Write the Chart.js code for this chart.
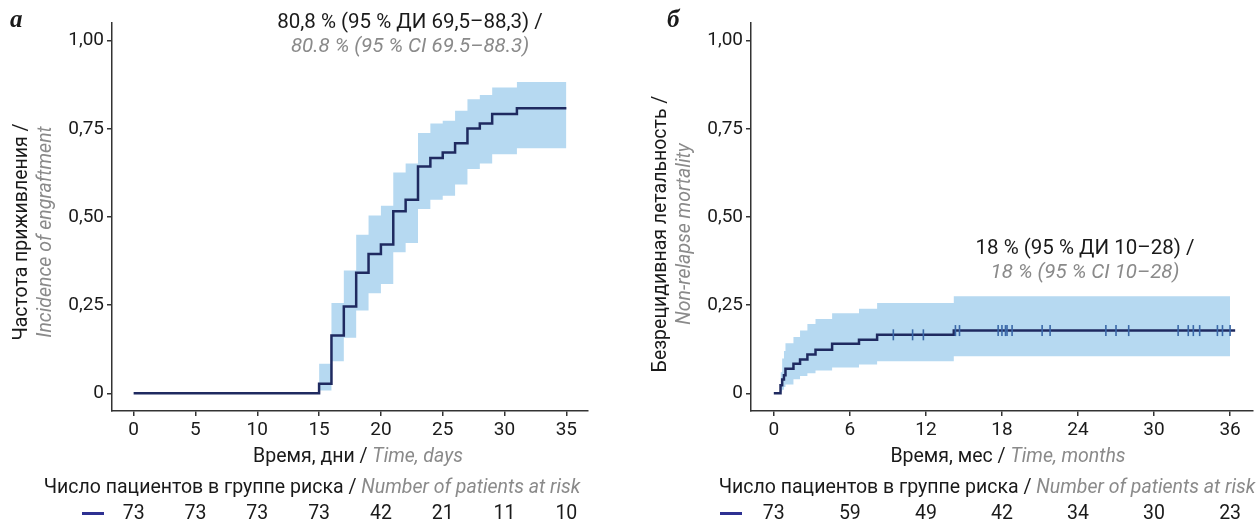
<!DOCTYPE html>
<html>
<head>
<meta charset="utf-8">
<script src="https://cdn.jsdelivr.net/npm/chart.js@4/dist/chart.umd.min.js"></script>
<style>
    body { margin: 0; background: #fff; }
    .panel { position: absolute; top: 0; width: 630px; height: 526px; }
</style>
</head>
<body>
<div class="panel" style="left:0"><canvas id="chartA" width="630" height="526"></canvas></div>
<div class="panel" style="left:630px"><canvas id="chartB" width="630" height="526"></canvas></div>
<script>
// Panel A: incidence of engraftment (days)
const engraftTimes = [0, 15, 16, 17, 18, 19, 20, 21, 22, 23, 24, 25, 26, 27, 28, 29, 31, 35];
const engraftValues = [0, 0.027, 0.164, 0.246, 0.342, 0.395, 0.422, 0.516, 0.549, 0.643, 0.667, 0.683, 0.709, 0.751, 0.765, 0.792, 0.808, 0.808];
const engraftBandTimes = [15, 16, 17, 18, 19, 20, 21, 22, 23, 24, 25, 26, 27, 28, 29, 31, 35];
const engraftUpper = [0.084, 0.256, 0.348, 0.450, 0.504, 0.532, 0.626, 0.652, 0.738, 0.765, 0.773, 0.801, 0.834, 0.846, 0.867, 0.883, 0.883];
const engraftLower = [0.008, 0.091, 0.158, 0.235, 0.284, 0.310, 0.400, 0.426, 0.523, 0.549, 0.560, 0.592, 0.636, 0.652, 0.678, 0.695, 0.695];
const daysTicks = [0, 5, 10, 15, 20, 25, 30, 35];
const daysAtRisk = [73, 73, 73, 73, 42, 21, 11, 10];

// Panel B: non-relapse mortality (months)
const nrmTimes = [0, 0.53, 0.66, 0.8, 0.92, 1.55, 2.07, 2.65, 3.29, 4.6, 6.72, 8.15, 14.2, 36.4];
const nrmValues = [0, 0.023, 0.039, 0.051, 0.070, 0.084, 0.096, 0.110, 0.124, 0.141, 0.152, 0.166, 0.178, 0.178];
const nrmBandTimes = [0.53, 0.66, 0.8, 0.92, 1.55, 2.07, 2.65, 3.29, 4.6, 6.72, 8.15, 14.2, 36];
const nrmUpper = [0.06, 0.099, 0.12, 0.142, 0.16, 0.178, 0.197, 0.211, 0.227, 0.240, 0.256, 0.275, 0.275];
const nrmLower = [0.005, 0.01, 0.018, 0.025, 0.040, 0.049, 0.057, 0.065, 0.073, 0.082, 0.091, 0.105, 0.105];
const nrmCensored = [9.43, 10.95, 11.8, 14.33, 14.65, 17.7, 18.0, 18.28, 18.4, 18.8, 21.17, 21.8, 26.2, 27.0, 28.0, 31.9, 32.7, 33.1, 33.6, 35.0, 35.4, 36.0];
const monthTicks = [0, 6, 12, 18, 24, 30, 36];
const monthsAtRisk = [73, 59, 49, 42, 34, 30, 23];

const yTicks = [0, 0.25, 0.5, 0.75, 1];
const yTickLabels = ['0', '0,25', '0,50', '0,75', '1,00'];

const FONT = 'Roboto, "Open Sans", sans-serif';
const BLACK = '#1a1a1a';
const GREY = '#8a8a8a';
const LINE = '#1f2a60';
const BAND = '#b6d9f1';
const TEXT_SIZE = 19.5;

function toPoints(xs, ys) {
    return xs.map((x, i) => ({ x: x, y: ys[i] }));
}

function stepValue(times, values, t) {
    let v = values[0];
    times.forEach((x, i) => { if (x <= t) v = values[i]; });
    return v;
}

// draws "black / " + "grey italic" as one line centred on cx
function drawMixed(ctx, first, second, cx, cy, size) {
    ctx.font = `${size}px ${FONT}`;
    const w1 = ctx.measureText(first).width;
    ctx.font = `italic ${size}px ${FONT}`;
    const w2 = ctx.measureText(second).width;
    let x = cx - (w1 + w2) / 2;
    ctx.textAlign = 'left';
    ctx.textBaseline = 'middle';
    ctx.font = `${size}px ${FONT}`;
    ctx.fillStyle = BLACK;
    ctx.fillText(first, x, cy);
    ctx.font = `italic ${size}px ${FONT}`;
    ctx.fillStyle = GREY;
    ctx.fillText(second, x + w1, cy);
}

function drawCentered(ctx, text, cx, cy, size, italic, color) {
    ctx.font = `${italic ? 'italic ' : ''}${size}px ${FONT}`;
    ctx.fillStyle = color;
    ctx.textAlign = 'center';
    ctx.textBaseline = 'middle';
    ctx.fillText(text, cx, cy);
}

function textPlugin(opts) {
    return {
        id: 'panelText',
        afterDraw(chart) {
            const ctx = chart.ctx;
            const xs = chart.scales.x;
            ctx.save();

            // panel letter
            ctx.font = 'bold italic 25px "Liberation Serif", "DejaVu Serif", serif';
            ctx.fillStyle = BLACK;
            ctx.textAlign = 'left';
            ctx.textBaseline = 'middle';
            ctx.fillText(opts.letter, opts.letterX, 21);

            // estimate annotation
            drawCentered(ctx, opts.noteRu, opts.noteX, opts.noteY, 20.5, false, BLACK);
            drawCentered(ctx, opts.noteEn, opts.noteX, opts.noteY + 24, 20.5, true, GREY);

            // y axis title
            ctx.save();
            ctx.translate(opts.yTitleX, opts.yTitleY);
            ctx.rotate(-Math.PI / 2);
            drawCentered(ctx, opts.yRu, 0, 0, TEXT_SIZE, false, BLACK);
            drawCentered(ctx, opts.yEn, 0, 24, TEXT_SIZE, true, GREY);
            ctx.restore();

            // x axis title
            drawMixed(ctx, opts.xRu, opts.xEn, opts.xTitleX, 457, TEXT_SIZE);

            // number at risk
            drawMixed(ctx, 'Число пациентов в группе риска / ', 'Number of patients at risk', opts.riskX, 488, TEXT_SIZE);
            ctx.fillStyle = '#2e3192';
            ctx.fillRect(opts.dashX, 512, 22, 3);
            opts.ticks.forEach((t, i) => {
                drawCentered(ctx, String(opts.atRisk[i]), xs.getPixelForValue(t), 514, TEXT_SIZE, false, BLACK);
            });
            ctx.restore();
        }
    };
}

function axisOptions(min, max, ticks, labels, size) {
    return {
        type: 'linear',
        min: min,
        max: max,
        afterBuildTicks: scale => { scale.ticks = ticks.map(v => ({ value: v })); },
        afterFit: scale => {
            if (scale.isHorizontal()) scale.height = size; else scale.width = size;
        },
        ticks: {
            autoSkip: false,
            maxRotation: 0,
            padding: 3,
            color: BLACK,
            font: { family: FONT, size: 19 },
            callback: (value, index) => labels[index]
        },
        grid: { drawOnChartArea: false, drawTicks: true, tickLength: 5, color: '#333', lineWidth: 1.5 },
        border: { display: true, color: '#333', width: 1.5 }
    };
}

function makePanel(id, cfg) {
    const datasets = [
        {
            data: toPoints(cfg.bandTimes, cfg.upper),
            stepped: true,
            borderWidth: 0,
            pointRadius: 0,
            backgroundColor: BAND,
            fill: '+1',
            order: 3
        },
        {
            data: toPoints(cfg.bandTimes, cfg.lower),
            stepped: true,
            borderWidth: 0,
            pointRadius: 0,
            fill: false,
            order: 2
        },
        {
            data: toPoints(cfg.times, cfg.values),
            stepped: true,
            borderColor: LINE,
            borderWidth: 2.5,
            pointRadius: 0,
            fill: false,
            order: 1
        }
    ];
    if (cfg.censored) {
        datasets.push({
            data: cfg.censored.map(t => ({ x: t, y: stepValue(cfg.times, cfg.values, t) })),
            showLine: false,
            pointStyle: 'line',
            rotation: 90,
            pointRadius: 5.5,
            borderWidth: 1.6,
            borderColor: '#3a68a8',
            order: 0
        });
    }

    const pad = cfg.xMax * 0.05;
    return new Chart(document.getElementById(id), {
        type: 'line',
        data: { datasets: datasets },
        options: {
            responsive: false,
            animation: false,
            layout: { padding: cfg.padding },
            plugins: { legend: { display: false }, tooltip: { enabled: false } },
            scales: {
                x: axisOptions(-pad, cfg.xMax + pad, cfg.ticks, cfg.ticks.map(String), 30),
                y: axisOptions(-0.05, 1.05, yTicks, yTickLabels, 60)
            }
        },
        plugins: [textPlugin(cfg.text)]
    });
}

makePanel('chartA', {
    times: engraftTimes, values: engraftValues,
    bandTimes: engraftBandTimes, upper: engraftUpper, lower: engraftLower,
    xMax: 35, ticks: daysTicks,
    padding: { left: 52, right: 42, top: 23, bottom: 85 },
    text: {
        letter: 'а', letterX: 10,
        noteRu: '80,8 % (95 % ДИ 69,5–88,3) /', noteEn: '80.8 % (95 % CI 69.5–88.3)', noteX: 410, noteY: 23,
        yRu: 'Частота приживления /', yEn: 'Incidence of engraftment', yTitleX: 22, yTitleY: 232,
        xRu: 'Время, дни / ', xEn: 'Time, days', xTitleX: 358,
        riskX: 312, dashX: 82,
        ticks: daysTicks, atRisk: daysAtRisk
    }
});

makePanel('chartB', {
    times: nrmTimes, values: nrmValues,
    bandTimes: nrmBandTimes, upper: nrmUpper, lower: nrmLower,
    censored: nrmCensored,
    xMax: 36, ticks: monthTicks,
    padding: { left: 61, right: 5, top: 23, bottom: 85 },
    text: {
        letter: 'б', letterX: 37,
        noteRu: '18 % (95 % ДИ 10–28) /', noteEn: '18 % (95 % CI 10–28)', noteX: 455, noteY: 249,
        yRu: 'Безрецидивная летальность /', yEn: 'Non-relapse mortality', yTitleX: 31, yTitleY: 234,
        xRu: 'Время, мес / ', xEn: 'Time, months', xTitleX: 378,
        riskX: 357, dashX: 90,
        ticks: monthTicks, atRisk: monthsAtRisk
    }
});
</script>
</body>
</html>
